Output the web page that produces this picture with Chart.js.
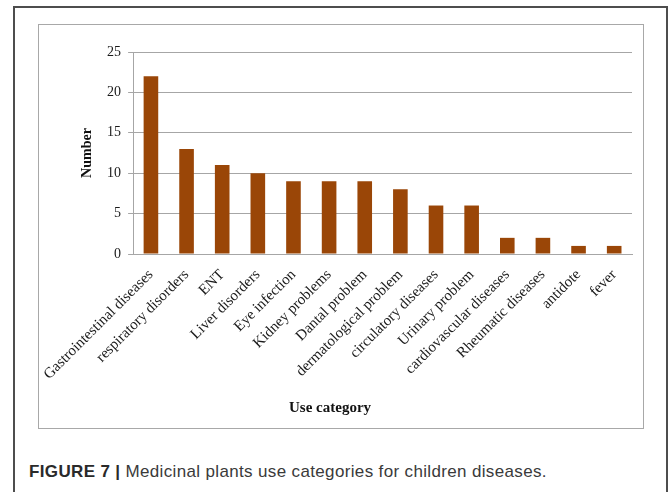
<!DOCTYPE html>
<html>
<head>
<meta charset="utf-8">
<script src="https://cdn.jsdelivr.net/npm/chart.js@4"></script>
<style>
  html, body { margin: 0; padding: 0; background: #fff; }
  body { width: 669px; height: 492px; position: relative; overflow: hidden; }
  #outer { position: absolute; left: 13px; top: 6px; width: 651px; height: 600px; border: 2px solid #4d4d4d; }
  #frame { position: absolute; left: 38px; top: 24px; width: 604px; height: 403px; border: 1px solid #a8a8a8; }
  #frame canvas { position: absolute; left: 0; top: 0; }
  #xtitle { position: absolute; left: 289px; top: 399px; width: 80px; text-align: center;
            font: bold 15px "Liberation Serif", "Times New Roman", serif; color: #111; white-space: nowrap; }
  #caption { position: absolute; left: 29px; top: 462px; font: 17px "Liberation Sans", Arial, sans-serif;
             letter-spacing: 0.35px; color: #3a3a3a; white-space: nowrap; }
  #caption b { color: #2a2a2a; }
</style>
</head>
<body>
<div id="outer"></div>
<div id="frame"><canvas id="chart" width="604" height="403"></canvas></div>
<div id="xtitle">Use category</div>
<div id="caption"><b>FIGURE 7 |</b> Medicinal plants use categories for children diseases.</div>
<script>
// Use categories of medicinal plants and number of plants cited for each
const categories = [
  "Gastrointestinal diseases", "respiratory disorders", "ENT", "Liver disorders",
  "Eye infection", "Kidney problems", "Dantal problem", "dermatological problem",
  "circulatory diseases", "Urinary problem", "cardiovascular diseases",
  "Rheumatic diseases", "antidote", "fever"
];
const counts = [22, 13, 11, 10, 9, 9, 9, 8, 6, 6, 2, 2, 1, 1];
const yTicks = [0, 5, 10, 15, 20, 25];

const serif = "'Liberation Serif', 'Times New Roman', serif";
const gridGray = "#a6a6a6";

new Chart(document.getElementById("chart"), {
  type: "bar",
  data: {
    labels: categories,
    datasets: [{
      label: "Number",
      data: counts,
      backgroundColor: "#9a4607",
      borderWidth: 0,
      barPercentage: 0.41,
      categoryPercentage: 1.0
    }]
  },
  options: {
    responsive: false,
    animation: false,
    devicePixelRatio: 1,
    layout: { padding: { top: 27, right: 11, left: 0, bottom: 0 } },
    plugins: { legend: { display: false }, tooltip: { enabled: false } },
    scales: {
      x: {
        grid: { display: false },
        border: { display: true, color: gridGray, width: 1 },
        ticks: {
          autoSkip: false, maxRotation: 45, minRotation: 45, padding: 4,
          color: "#1a1a1a", font: { family: serif, size: 15 }
        },
        afterFit: s => { s.height = 174; }
      },
      y: {
        min: yTicks[0], max: yTicks[yTicks.length - 1],
        afterBuildTicks: s => { s.ticks = yTicks.map(v => ({ value: v })); },
        grid: { color: gridGray, lineWidth: 1, tickLength: 5, drawTicks: true },
        border: { display: true, color: gridGray, width: 1 },
        ticks: { padding: 7, color: "#1a1a1a", font: { family: serif, size: 14 } },
        title: {
          display: true, text: "Number", color: "#111",
          font: { family: serif, size: 14, weight: "bold" },
          padding: { top: 40, bottom: 0 }
        },
        afterFit: s => { s.width = 94; }
      }
    }
  }
});
</script>
</body>
</html>
